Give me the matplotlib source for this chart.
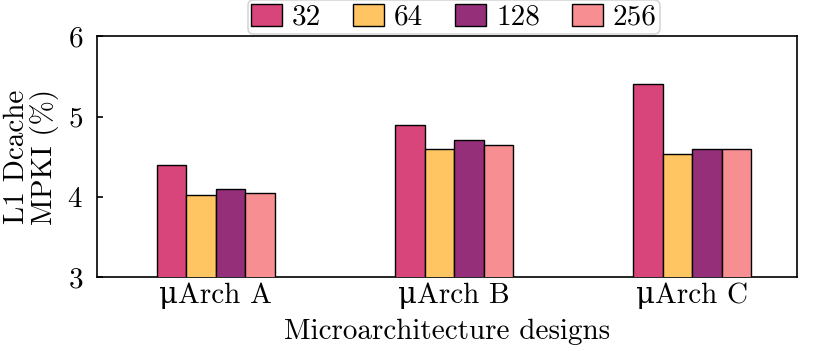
import matplotlib
matplotlib.use("Agg")
import matplotlib.pyplot as plt
import numpy as np

plt.rcParams['font.family'] = ['cmr10', 'DejaVu Serif']
plt.rcParams['mathtext.fontset'] = 'cm'
plt.rcParams['axes.formatter.use_mathtext'] = True

# data
designs = ['\u03bcArch A', '\u03bcArch B', '\u03bcArch C']
sizes = ['32', '64', '128', '256']
mpki_32 = [4.40, 4.90, 5.40]
mpki_64 = [4.02, 4.60, 4.53]
mpki_128 = [4.10, 4.71, 4.60]
mpki_256 = [4.05, 4.65, 4.59]
colors = ['#d8457a', '#fec562', '#962f7a', '#f78e92']

series = [mpki_32, mpki_64, mpki_128, mpki_256]

fs = 21
fig, ax = plt.subplots(figsize=(8.14, 3.51), dpi=100)
x = np.arange(len(designs))
w = 0.124
for i, vals in enumerate(series):
    ax.bar(x + (i - 1.5) * w, vals, w, color=colors[i], edgecolor='black',
           linewidth=1, label=sizes[i], zorder=3)

ax.set_ylim(3, 6)
ax.set_yticks([3, 4, 5, 6])
ax.set_xlim(-0.5, 2.44)
ax.set_xticks(x)
ax.set_xticklabels(designs)
ax.set_xlabel('Microarchitecture designs', fontsize=fs, labelpad=7)
ax.set_ylabel('L1 Dcache\nMPKI (%)', fontsize=fs, linespacing=1.0, labelpad=6)
ax.tick_params(direction='in', labelsize=fs, length=4, width=1.2)
ax.tick_params(axis='y', pad=10)
for s in ax.spines.values():
    s.set_linewidth(1.2)

leg = ax.legend(loc='lower center', bbox_to_anchor=(0.51, 1.008), ncol=4,
                fontsize=fs, frameon=True, fancybox=True, handlelength=1.06,
                handletextpad=0.34, columnspacing=1.1, borderpad=0.12,
                handleheight=0.79, borderaxespad=0)
leg.get_frame().set_edgecolor('#cccccc')
leg.get_frame().set_linewidth(1.2)
leg.set_zorder(5)

plt.subplots_adjust(left=0.119, right=0.979, top=0.897, bottom=0.21)
fig.savefig('out.png', dpi=100)
